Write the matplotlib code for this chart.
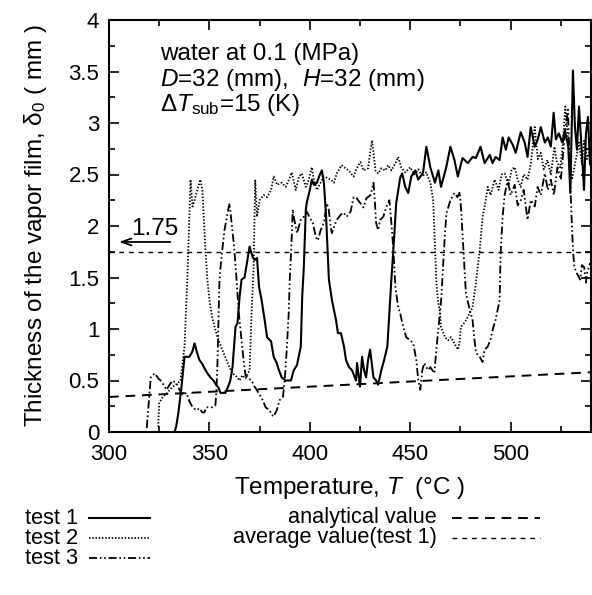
import matplotlib
matplotlib.use("Agg")
import matplotlib.pyplot as plt
from matplotlib.lines import Line2D
from matplotlib.ticker import MultipleLocator

plt.rcParams['font.family'] = ['Liberation Sans', 'DejaVu Sans']
plt.rcParams['mathtext.fontset'] = 'custom'
plt.rcParams['mathtext.rm'] = 'Liberation Sans'
plt.rcParams['mathtext.it'] = 'Liberation Sans:italic'
plt.rcParams['mathtext.bf'] = 'Liberation Sans:bold'

# ---------------- data ----------------
test1_T = [332.7, 333.5, 334.5, 336, 337.6, 340, 341.5, 342.6, 344, 345, 346.5, 347.5, 349, 350.5, 352, 353,
           354.5, 355.5, 357, 358, 359.5, 360.4, 361.5, 363, 364, 365, 366, 367.5, 368.5, 370, 371.5, 372.5,
           373.7, 374.7, 376, 377.7, 378.7, 380.7, 382, 383.5, 384.6, 386, 388, 390.6, 392, 393.6, 395.5,
           396.2, 397, 398, 398.5, 400, 401, 402, 403.5, 405, 406, 407, 408, 409.5, 411, 413, 414, 415.5,
           417, 418, 419.5, 421, 423, 423.5, 425, 426, 427, 428, 429, 430, 431.7, 433, 434, 435.6, 437,
           438.6, 439.6, 440.6, 441.6, 443, 445, 446, 447.5, 449, 450.5, 452.5, 454, 456.4, 458, 460,
           462.3, 464, 465.3, 467.8, 470, 472, 473.7, 476, 478.7, 481, 482.7, 485, 487, 489.6, 491, 492.5,
           494.5, 496, 497.6, 499, 501, 502.5, 505, 507, 508.4, 510, 512, 513.5, 515, 517, 518.5, 520,
           521.4, 522.5, 524, 525.7, 527, 528.7, 529.7, 531, 532, 533, 534, 535.6, 536.5, 537.5, 538.5, 539.5]
test1_d = [0.0, 0.06, 0.18, 0.42, 0.73, 0.73, 0.78, 0.86, 0.76, 0.70, 0.66, 0.62, 0.57, 0.53, 0.50, 0.47,
           0.43, 0.38, 0.38, 0.38, 0.45, 0.50, 0.63, 1.02, 1.06, 1.31, 1.48, 1.50, 1.62, 1.80, 1.70, 1.67,
           1.69, 1.41, 1.28, 1.06, 0.92, 0.88, 0.73, 0.67, 0.60, 0.53, 0.50, 0.50, 0.60, 0.65, 0.83,
           1.31, 1.60, 2.16, 2.23, 2.35, 2.45, 2.40, 2.42, 2.50, 2.54, 2.42, 2.13, 1.48, 1.28, 1.09, 0.96, 0.96,
           0.83, 0.70, 0.63, 0.60, 0.50, 0.67, 0.44, 0.73, 0.60, 0.53, 0.70, 0.80, 0.53, 0.50, 0.46, 0.60, 0.70,
           0.83, 1.16, 1.48, 1.77, 2.22, 2.47, 2.51, 2.38, 2.32, 2.48, 2.54, 2.45, 2.52, 2.77, 2.57,
           2.42, 2.54, 2.38, 2.56, 2.77, 2.64, 2.48, 2.66, 2.61, 2.67, 2.66, 2.77, 2.61, 2.69, 2.61, 2.67,
           2.64, 2.86, 2.74, 2.86, 2.79, 2.71, 2.91, 2.81, 2.67, 2.96, 2.77, 2.84, 2.96, 2.81, 2.86, 2.77,
           3.10, 2.84, 2.90, 2.81, 2.93, 2.77, 2.32, 3.51, 2.96, 2.74, 3.16, 2.67, 2.35, 2.90, 3.06, 2.60]

test2_T = [324.5, 325, 326.7, 329, 331.7, 334, 335.6, 337.6, 339, 340.6, 341.6, 342.6, 344, 345.5, 346.5,
           348, 349, 350, 351.5, 354, 356.4, 358, 360, 361.4, 363, 365, 366.4, 368, 370, 371, 372, 372.8,
           373.7, 375, 377, 378.7, 380.7, 382, 383.7, 386, 388, 389.6, 391, 393, 394.6, 396, 398, 399.5,
           401, 402, 403.5, 405.4, 407, 408.4, 410.4, 412, 413.4, 415.8, 417.8, 419.3, 421.8, 423.3, 425.2,
           426.7, 429, 430.2, 431, 432.7, 434, 435.6, 437.6, 439, 440.6, 442.6, 444, 445.5, 447.5, 450,
           452, 454, 456, 458, 460, 461.4, 462.4, 463, 463.8, 464.8, 465.3, 467.3, 468.8, 470.3, 472, 473.8,
           474.7, 475.2, 477, 478.7, 481, 482.7, 484.6, 486, 487.6, 488.6, 490, 492, 494, 495.5, 497, 499,
           500.5, 502, 503.5, 505, 506.5, 508.4, 510, 512, 513.5, 515, 516.5, 518.3, 520, 521.8, 523, 524.7,
           526, 527.2, 529, 530.5, 531.7, 533, 534, 535.5, 536.6, 538, 539.5]
test2_d = [0.05, 0.28, 0.34, 0.38, 0.44, 0.47, 0.50, 0.83, 1.48, 2.45, 2.19, 2.25, 2.35, 2.45, 2.35,
           1.77, 1.48, 1.28, 1.10, 0.92, 0.80, 0.72, 0.63, 0.57, 0.55, 0.50, 0.55, 0.52, 0.60, 1.16, 1.60, 2.45,
           2.09, 2.25, 2.30, 2.28, 2.35, 2.48, 2.40, 2.42, 2.38, 2.45, 2.52, 2.35, 2.48, 2.51, 2.38, 2.45,
           2.57, 2.45, 2.35, 2.42, 2.48, 2.47, 2.45, 2.42, 2.51, 2.59, 2.56, 2.54, 2.48, 2.56, 2.62,
           2.54, 2.56, 2.74, 2.83, 2.54, 2.51, 2.56, 2.54, 2.59, 2.54, 2.61, 2.67, 2.57, 2.52, 2.57,
           2.50, 2.55, 2.48, 2.52, 2.42, 2.25, 1.77, 1.45, 1.28, 1.16, 1.02, 0.92, 0.89, 0.92, 0.86, 0.80,
           0.89, 1.02, 1.06, 1.12, 1.21, 1.45, 1.77, 2.09, 2.25, 2.38, 2.30, 2.45, 2.35, 2.50, 2.51, 2.40,
           2.55, 2.57, 2.45, 2.38, 2.50, 2.45, 2.60, 2.96, 2.65, 2.71, 2.55, 2.64, 2.50, 2.77, 2.62, 2.57,
           2.80, 3.16, 2.74, 2.45, 2.57, 2.70, 2.81, 2.60, 2.83, 2.65, 2.74]

test3_T = [318.8, 320.8, 322.8, 324.5, 325.7, 327.5, 328.7, 330.2, 331.7, 333.7, 335.1, 336.6, 338.6, 340,
           341.6, 343.6, 345, 346.5, 347.5, 348.5, 350, 351.5, 353, 353.5, 354, 355, 356, 357.5, 359, 360,
           361.4, 362.3, 363.5, 364.6, 366, 367, 368, 369.5, 371, 372.5, 374.5, 376.5, 378, 380, 381, 382,
           383.5, 385, 386.6, 387.5, 388.6, 389.5, 390, 390.8, 391.5, 392, 393.6, 395.5, 397, 398.5, 400.5,
           401.5, 403, 404, 405.4, 407, 408.4, 409.4, 410.4, 411, 412, 413.4, 415.4, 416.8, 418.3, 420.3,
           421.8, 423.3, 425.2, 426.7, 428.2, 430.2, 431.7, 432.5, 433, 434, 435, 436.6, 438, 439.6, 440.6,
           441.6, 442.6, 444, 445, 446.5, 448, 450, 451.5, 453, 454, 455, 456, 457, 458, 459, 460, 462, 463,
           464.5, 465.4, 466.3, 467.3, 468, 470, 472, 473.5, 474.7, 475.5, 476, 477, 477.7, 479.7, 481, 482,
           482.7, 484.6, 486, 487, 488.6, 490, 491, 492.5, 494.5, 495, 496, 497, 498.5, 500, 502, 503.5, 505,
           506.5, 508.4, 510, 512, 513.4, 515, 517, 518.5, 520, 521.5, 523.3, 525, 527, 528.5, 530, 531,
           531.7, 533, 534.6, 535.5, 536.6, 537.5, 538, 539.5]
test3_d = [0.04, 0.53, 0.57, 0.52, 0.50, 0.45, 0.41, 0.46, 0.50, 0.47, 0.41, 0.36, 0.38, 0.30,
           0.24, 0.21, 0.23, 0.19, 0.19, 0.24, 0.24, 0.24, 0.26, 0.41, 0.67, 1.48, 1.70, 1.96, 2.12, 2.22,
           1.96, 1.80, 1.48, 1.16, 0.89, 0.70, 0.55, 0.52, 0.50, 0.44, 0.38, 0.31, 0.24, 0.21, 0.17, 0.15,
           0.21, 0.31, 0.34, 0.50, 0.83, 1.16, 1.48, 1.80, 2.16, 2.09, 1.93, 2.06, 2.09, 2.14, 2.06,
           2.03, 1.89, 1.86, 1.96, 2.03, 2.22, 2.16, 1.99, 1.93, 1.99, 2.06, 2.11, 2.13, 2.09, 2.14,
           2.28, 2.27, 2.22, 2.18, 2.27, 2.30, 2.42, 2.20, 2.03, 1.96, 2.06, 2.09, 2.18, 2.25, 2.03,
           1.77, 1.41, 1.21, 1.15, 1.02, 0.92, 0.89, 0.86, 0.70, 0.50, 0.41, 0.60, 0.67, 0.63, 0.60, 0.63, 0.57, 0.80,
           1.10, 1.28, 1.60, 1.93, 2.12, 2.25, 2.32, 2.28, 2.33, 2.10, 1.93, 1.60, 1.35, 1.18, 1.09, 0.89,
           0.77, 0.73, 0.68, 0.80, 0.83, 0.90, 0.99, 1.09, 1.28, 1.74, 2.09, 2.30, 2.45, 2.30, 2.40, 2.20, 2.25,
           2.35, 2.06, 2.25, 2.19, 2.38, 2.30, 2.51, 2.35, 2.45, 2.30, 2.57, 2.45, 2.90, 3.13, 2.25, 1.77,
           1.60, 1.54, 1.48, 1.62, 1.60, 1.45, 1.54, 1.64]

analytical_T = [300, 540]
analytical_d = [0.34, 0.58]
average_value = 1.75

series_labels = ['test 1', 'test 2', 'test 3']
ref_labels = ['analytical value', 'average value(test 1)']

# ---------------- styles ----------------
FS_TICK = 16
FS_LAB = 17.5
FS_ANN = 17.5
FS_LEG = 15.7
W, H = 592, 595
fig = plt.figure(figsize=(W / 100, H / 100), dpi=100)
ax = fig.add_axes([109 / W, 1 - 432 / H, (591 - 109) / W, (432 - 20) / H])

sty1 = dict(color='black', lw=1.5, ls='-')
sty2 = dict(color='black', lw=1.3, ls=(0, (0.8, 1.0)))
sty3 = dict(color='black', lw=1.3, ls=(0, (4.5, 1.5, 0.9, 1.5, 0.9, 1.5)))
sty_an = dict(color='black', lw=1.4, ls=(0, (5, 3.5)))
sty_av = dict(color='black', lw=1.0, ls=(0, (3.5, 3.5)))

ax.plot(analytical_T, analytical_d, **sty_an)
ax.axhline(average_value, **sty_av)
ax.plot(test2_T, test2_d, **sty2)
ax.plot(test3_T, test3_d, **sty3)
ax.plot(test1_T, test1_d, **sty1)

ax.set_xlim(300, 540)
ax.set_ylim(0, 4)
ax.xaxis.set_minor_locator(MultipleLocator(25))
ax.yaxis.set_minor_locator(MultipleLocator(0.25))
ax.set_yticks([0, 0.5, 1, 1.5, 2, 2.5, 3, 3.5, 4])
ax.set_yticklabels(['0', '0.5', '1', '1.5', '2', '2.5', '3', '3.5', '4'])
ax.set_xticks([300, 350, 400, 450, 500])
ax.tick_params(which='both', direction='in', top=True, right=True, labelsize=FS_TICK, width=1.2)
ax.tick_params(axis='x', pad=9)
ax.tick_params(axis='y', pad=7)
ax.tick_params(which='major', length=7)
ax.tick_params(which='minor', length=4.5)
for s in ax.spines.values():
    s.set_linewidth(1.5)

ax.set_xlabel(r'Temperature, $\mathit{T}$  (°C )', fontsize=FS_LAB, labelpad=7)
ax.set_ylabel(r'Thickness of the vapor film, $\mathrm{\delta}_0$ ( mm )', fontsize=FS_LAB, labelpad=14)

ax.text(325.2, 3.61, 'water at 0.1 (MPa)', fontsize=FS_ANN, va='baseline')
ax.text(325.2, 3.36, r'$\mathit{D}$=32 (mm),  $\mathit{H}$=32 (mm)', fontsize=FS_ANN, va='baseline')
ax.text(325.2, 3.12, r'$\Delta\mathit{T}_{\mathrm{sub}}$=15 (K)', fontsize=FS_ANN, va='baseline')

ax.text(311.0, 1.91, '1.75', fontsize=FS_ANN, va='baseline')
ax.annotate('', xy=(305.0, 1.845), xytext=(330.5, 1.845),
            arrowprops=dict(arrowstyle='->,head_length=0.7,head_width=0.25', lw=1.3, color='black',
                            shrinkA=0, shrinkB=0))

# ---------------- legend (manual) ----------------
def fx(px):
    return px / W

def fy(py):
    return 1 - py / H

rows = [518, 538, 558]
for lab, sty, py in zip(series_labels, [sty1, sty2, sty3], rows):
    fig.text(fx(25), fy(py), lab, fontsize=FS_LEG, va='center', ha='left')
    fig.add_artist(Line2D([fx(89), fx(150)], [fy(py), fy(py)], transform=fig.transFigure, **sty))

for lab, sty, py in zip(ref_labels, [sty_an, sty_av], rows[:2]):
    fig.text(fx(437), fy(py), lab, fontsize=FS_LEG, va='center', ha='right')
    fig.add_artist(Line2D([fx(452), fx(540)], [fy(py), fy(py)], transform=fig.transFigure, **sty))

fig.savefig('out.png', dpi=100)
